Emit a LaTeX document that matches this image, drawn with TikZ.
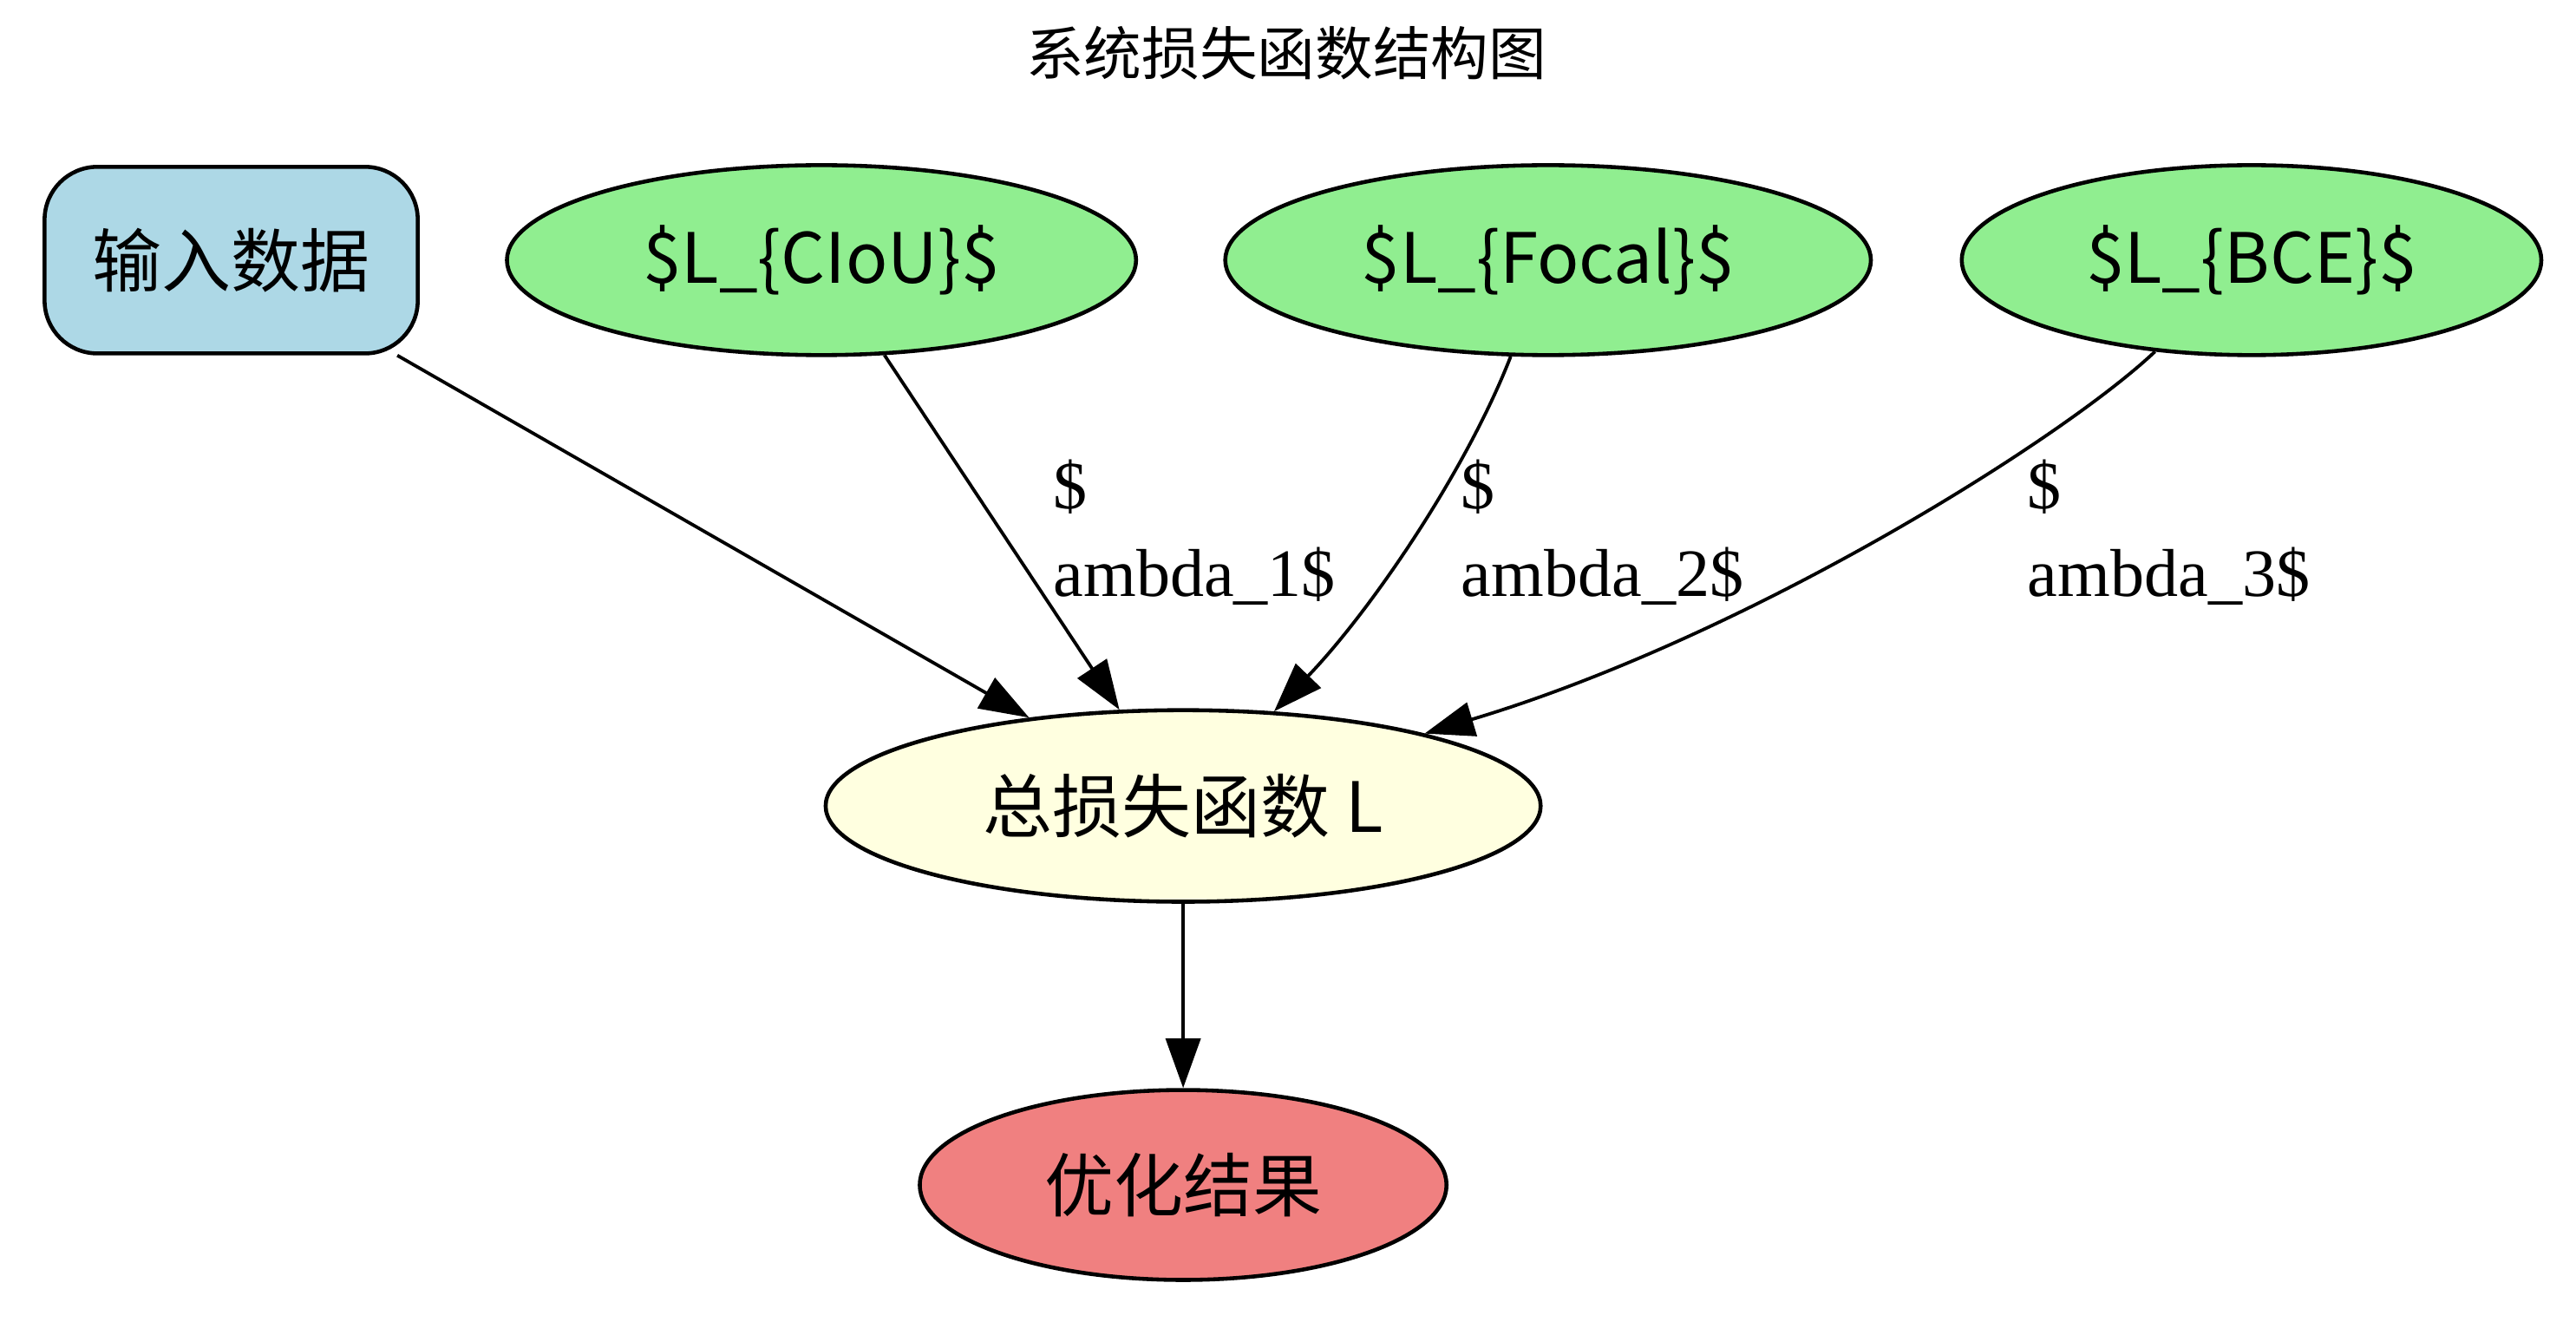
\documentclass[tikz,border=0pt]{standalone}
\usepackage{fontspec}
\setmainfont{Noto Sans CJK SC}
\newfontfamily\weightfont{Liberation Serif}
\usetikzlibrary{arrows.meta,shapes.geometric}
\definecolor{inputblue}{HTML}{ADD8E6}
\definecolor{lossgreen}{HTML}{90EE90}
\definecolor{totalyellow}{HTML}{FFFFE0}
\definecolor{resultred}{HTML}{F08080}

\begin{document}
\begin{tikzpicture}[x=0.5pt,y=-0.5pt,>={Triangle[length=15pt,width=10.5pt]},line width=1pt,
                    main node/.style={ellipse,draw,line width=1.2pt,inner sep=0pt,minimum height=57.5pt,
                                      font=\fontsize{21}{25}\selectfont},
                    loss node/.style={main node,fill=lossgreen},
                    weight label/.style={anchor=base west,inner sep=0pt,align=left,
                                         font=\weightfont\fontsize{20.5}{26.5}\selectfont}]
  \useasboundingbox (0,0) rectangle (1560,800);
  \node[font=\fontsize{17.5}{20}\selectfont] (title) at (779,32) {系统损失函数结构图};
  % top row
  \node[main node,rectangle,rounded corners=16pt,fill=inputblue,minimum width=113pt,minimum height=56.5pt]
    (input) at (140,157.5) {输入数据};
  \node[loss node,minimum width=190.5pt] (ciou) at (497.5,157.5) {\$L\_\{CIoU\}\$};
  \node[loss node,minimum width=195.5pt] (focal) at (937.5,157.5) {\$L\_\{Focal\}\$};
  \node[loss node,minimum width=175.5pt] (bce) at (1363.5,157.5) {\$L\_\{BCE\}\$};
  % total and result
  \node[main node,fill=totalyellow,minimum width=216.5pt,minimum height=58pt] (total) at (716.5,488) {总损失函数 L};
  \node[main node,fill=resultred,minimum width=159.5pt] (result) at (716.5,717.5) {优化结果};
  % weights
  \node[weight label] (w1) at (637,361) {\$\\ambda\_1\$};
  \node[weight label] (w2) at (884,361) {\$\\ambda\_2\$};
  \node[weight label] (w3) at (1227,361) {\$\\ambda\_3\$};
  \path[->]
    (input) edge (total)
    (ciou) edge (total)
    (total) edge (result);
  \draw[->] (focal) .. controls (888,285) and (830,370) .. (total);
  \draw[->] (bce) .. controls (1250,265) and (1060,385) .. (total);
\end{tikzpicture}
\end{document}
